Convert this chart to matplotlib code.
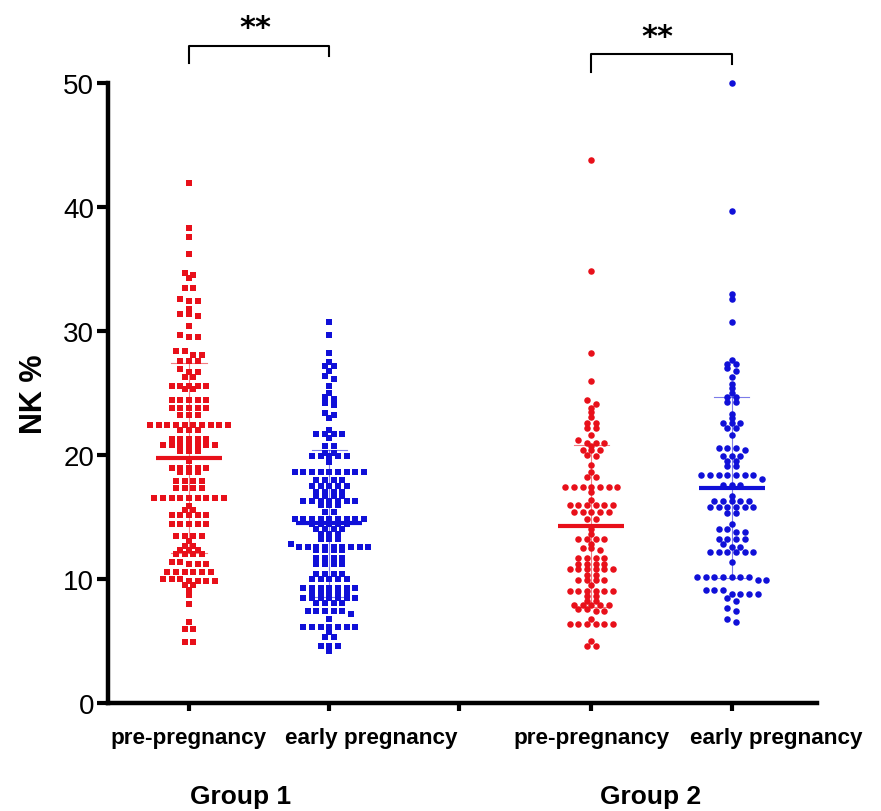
import numpy as np
import matplotlib
matplotlib.use('Agg')
import matplotlib.pyplot as plt

plt.rcParams['font.family'] = ['Liberation Sans', 'DejaVu Sans']

# NK % values, one list per column
g1_pre = ([41.9, 38.3, 37.6, 36.2, 34.7, 34.5, 34.3, 33.5, 33.5, 32.6, 32.4, 32.4, 31.8,
           31.4, 31.4, 31.2, 30.4, 29.7, 29.5, 29.5, 28.4, 28.4, 28.1, 28.1]
          + [27.6] * 3 + [26.9] + [26.7] * 2 + [26.3] * 2 + [25.6] * 5 + [25.3] * 2
          + [24.4] * 5 + [23.8] * 5 + [23.2] * 3 + [22.4] * 10 + [22.0] * 3 + [21.3] * 5
          + [20.8] * 7 + [20.3] * 3 + [19.5] + [18.95] * 5 + [18.6] * 3 + [17.9] * 4
          + [17.3] * 4 + [16.5] * 9 + [15.9] + [15.6] * 2 + [15.2] * 5 + [14.4] * 5
          + [13.5] * 4 + [13.1] + [12.7] * 2 + [12.3] * 3 + [12.0] * 4 + [11.4] * 2
          + [11.2] * 3 + [10.6] * 6 + [10.0] * 3 + [9.8] * 4 + [9.5] * 2
          + [9.1, 8.7, 8.0, 6.5, 6.0, 6.0, 4.9, 4.9])

g1_early = ([30.7, 29.7, 28.2, 27.5, 27.2, 27.2, 26.8, 26.4, 26.1, 25.6, 25.0, 24.65, 24.5,
             24.2, 24.0, 23.4, 23.2, 22.95, 22.0] + [21.7] * 4 + [21.35, 20.75, 20.7]
            + [20.2] * 2 + [19.9] * 5 + [19.4] + [18.6] * 9 + [18.0] * 4 + [17.5] * 5
            + [17.0] * 4 + [16.7] * 4 + [16.3] * 7 + [16.0] * 3 + [15.4] * 2 + [14.8] * 9
            + [14.4] * 5 + [14.0] * 4 + [13.6] * 3 + [13.2] * 3 + [12.8] + [12.6] * 9
            + [12.3] * 4 + [11.7] * 4 + [11.2] * 4 + [10.4] * 4 + [10.0] * 5 + [9.3] * 7
            + [8.8] * 5 + [8.5] * 7 + [8.1] * 4 + [7.4] * 5 + [7.2, 6.8] + [6.1] * 7
            + [5.7, 5.3, 5.3, 4.6, 4.6, 4.6, 4.2])

g2_pre = ([43.8, 34.8, 28.2, 26.0, 24.4, 24.1, 23.8, 23.5, 23.1, 22.6, 22.6, 22.2, 22.2,
           21.6, 21.2, 21.0, 21.0, 21.0, 20.75, 20.4, 20.4, 20.4, 20.0, 19.9, 19.2, 18.6,
           18.2, 18.2]
          + [17.4] * 7 + [17.0, 16.4] + [16.0] * 6 + [15.4] * 5 + [14.8] * 2 + [14.0, 13.6]
          + [13.2] * 4 + [12.8, 12.5, 12.5, 12.3] + [11.7] * 4 + [11.2] * 4 + [10.8] * 6
          + [10.3] * 2 + [9.9] * 4 + [9.5] + [9.0] * 6 + [8.65] * 2 + [8.25] * 2
          + [7.9] * 5 + [7.6] * 2 + [7.4] * 2 + [6.8] + [6.4] * 6 + [5.0, 4.6, 4.6])

g2_early = ([50.0, 39.7, 33.0, 32.6, 30.75, 27.7, 27.3, 27.3, 27.0, 26.8, 26.3, 25.7, 25.4,
             25.0, 24.65, 24.65, 24.25, 24.25, 23.3, 23.0] + [22.6] * 3 + [22.2] * 2
            + [21.6] + [20.6] * 3 + [20.4] + [19.9] * 3 + [19.5] * 2 + [19.1] * 2
            + [18.4] * 7 + [18.1] + [17.6] * 3 + [16.7] + [16.3] * 5 + [15.8] * 6
            + [15.3] * 2 + [14.4] + [14.0] * 2 + [13.8] * 2 + [13.2] * 4 + [12.8]
            + [12.6] * 2 + [12.15] * 6 + [11.4] + [10.2] * 7 + [9.9] * 2 + [9.1] * 3
            + [8.8] * 4 + [8.5, 8.25, 7.7, 7.4, 6.8, 6.5])

columns = [g1_pre, g1_early, g2_pre, g2_early]
positions = [1, 2.04, 3, 3.98, 5.02]
col_pos = [1, 2.04, 3.98, 5.02]
colors = ['#e8101a', '#1010d8', '#e8101a', '#1010d8']
markers = ['s', 's', 'o', 'o']
col_labels = ['pre-pregnancy', 'early pregnancy', 'pre-pregnancy', 'early pregnancy']
groups = ['Group 1', 'Group 2']
stars = ['**', '**']


def swarm_offsets(vals, thresh=0.3, step=0.064):
    vals = np.asarray(vals)
    order = np.argsort(vals)[::-1]
    offs = np.zeros(len(vals))
    rows, cur = [], [order[0]]
    for idx in order[1:]:
        if vals[cur[0]] - vals[idx] < thresh:
            cur.append(idx)
        else:
            rows.append(cur)
            cur = [idx]
    rows.append(cur)
    for r in rows:
        n = len(r)
        for i, idx in enumerate(r):
            offs[idx] = (i - (n - 1) / 2) * step
    return offs


fig = plt.figure(figsize=(8.81, 8.12), dpi=100)
ax = fig.add_axes([0.1226, 0.133, 0.8044, 0.7636])

for vals, pos, col, mk in zip(columns, col_pos, colors, markers):
    vals = np.array(vals)
    xs = pos + swarm_offsets(vals)
    ax.scatter(xs, vals, s=19 if mk == 's' else 22, marker=mk, color=col,
               linewidths=0, zorder=3, clip_on=False)
    m, sd = vals.mean(), vals.std(ddof=1)
    ax.plot([pos - 0.245, pos + 0.245], [m, m], color=col, lw=3, zorder=4,
            solid_capstyle='butt')
    ax.plot([pos, pos], [m - sd, m + sd], color=col, lw=0.8, alpha=0.55, zorder=2)
    for yy in (m - sd, m + sd):
        ax.plot([pos - 0.13, pos + 0.13], [yy, yy], color=col, lw=0.8, alpha=0.55, zorder=2)

ax.set_xlim(0.4, 5.65)
ax.set_ylim(0, 50)
ax.set_yticks([0, 10, 20, 30, 40, 50])
ax.set_xticks(positions)
ax.set_xticklabels([])
ax.tick_params(axis='y', labelsize=20, length=8, width=3, pad=2)
ax.tick_params(axis='x', length=6, width=3)
for s in ['top', 'right']:
    ax.spines[s].set_visible(False)
for s in ['left', 'bottom']:
    ax.spines[s].set_linewidth(3.2)
ax.set_ylabel('NK %', fontsize=22, fontweight='bold', labelpad=10)

# column labels: the second label of each pair sits right of its tick
label_shift = [0.0, 0.31, 0.0, 0.33]
for pos, lab, sh in zip(col_pos, col_labels, label_shift):
    ax.text(pos + sh, -2.75, lab, fontsize=16.2, fontweight='bold', ha='center',
            va='center')

# group labels under the column labels
for gx, g in zip([1.38, 4.42], groups):
    ax.text(gx, -7.5, g, fontsize=19, fontweight='bold', ha='center', va='center')

# significance brackets
for (a, b), top, st in zip([(col_pos[0], col_pos[1]), (col_pos[2], col_pos[3])],
                           [53.0, 52.3], stars):
    ax.plot([a, a, b, b], [top - 1.4, top, top, top - 0.8], color='black', lw=1.5,
            clip_on=False)
    ax.text((a + b) / 2 - 0.03, top + 0.8, st, fontsize=22, fontweight='bold',
            ha='center', va='baseline', family='DejaVu Sans')

fig.savefig('out.png', dpi=100)
